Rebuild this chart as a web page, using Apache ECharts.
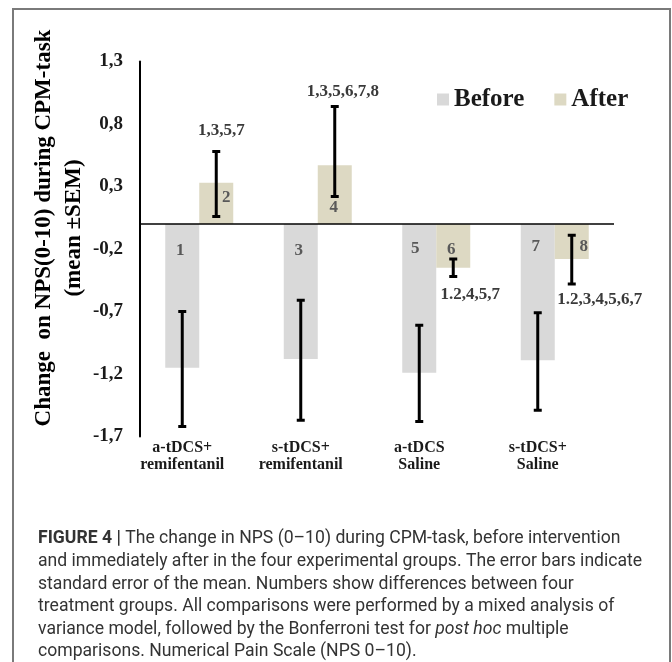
<!DOCTYPE html>
<html><head><meta charset="utf-8">
<script src="https://cdn.jsdelivr.net/npm/echarts@6/dist/echarts.min.js"></script>
<style>html,body{margin:0;padding:0;background:#fff}#c{width:672px;height:662px}</style>
</head><body><div id="c"></div>
<script>
// ---- data ----
const categories = ['a-tDCS+\nremifentanil', 's-tDCS+\nremifentanil', 'a-tDCS\nSaline', 's-tDCS+\nSaline'];
const seriesNames = ['Before', 'After'];
const beforeValues = [-1.15, -1.08, -1.19, -1.09];
const afterValues = [0.33, 0.47, -0.35, -0.28];
const beforeErrLow = [-1.62, -1.57, -1.58, -1.49];
const beforeErrHigh = [-0.70, -0.61, -0.81, -0.71];
const afterErrLow = [0.06, 0.22, -0.42, -0.48];
const afterErrHigh = [0.58, 0.94, -0.28, -0.09];
const beforeNumbers = ['1', '3', '5', '7'];
const afterNumbers = ['2', '4', '6', '8'];
const afterSigLabels = ['1,3,5,7', '1,3,5,6,7,8', '1.2,4,5,7', '1.2,3,4,5,6,7'];
const yMin = -1.7, yMax = 1.3, yStep = 0.5;
const yTitle1 = 'Change  on NPS(0-10) during CPM-task';
const yTitle2 = '(mean \u00B1SEM)';
const captionLines = [
  '{b|FIGURE 4 |} The change in NPS (0\u201310) during CPM-task, before intervention',
  'and immediately after in the four experimental groups. The error bars indicate',
  'standard error of the mean. Numbers show differences between four',
  'treatment groups. All comparisons were performed by a mixed analysis of',
  'variance model, followed by the Bonferroni test for {i|post hoc} multiple',
  'comparisons. Numerical Pain Scale (NPS 0\u201310).'
];

// ---- styling (pixel offsets for annotation text) ----
const SERIF = '"Liberation Serif", "Times New Roman", serif';
const BAR_W = 34;
const beforeNumOff = [[-2, 27], [-2, 27], [-4, 25], [-2, 23]];   // relative to zero line
const afterNumOff = [[10, -26], [-1, -16], [-2, 26], [12, 23]];  // relative to zero line
const sigOff = [[5, -21], [8, -15], [17, 18], [28, 16]];          // relative to error-bar end

function errRenderer(side, lows, highs, vals, nums, numOff, sigs) {
  return function (params, api) {
    const i = api.value(0);
    const c0 = api.coord([i, 0]);
    const x = c0[0] + side * BAR_W / 2;
    const yLo = api.coord([i, lows[i]])[1];
    const yHi = api.coord([i, highs[i]])[1];
    const line = { stroke: '#000', lineWidth: 3 };
    const children = [
      { type: 'line', shape: { x1: x, y1: yHi, x2: x, y2: yLo }, style: line },
      { type: 'line', shape: { x1: x - 4, y1: yHi, x2: x + 4, y2: yHi }, style: line },
      { type: 'line', shape: { x1: x - 4, y1: yLo, x2: x + 4, y2: yLo }, style: line },
      { type: 'text', x: x + numOff[i][0], y: c0[1] + numOff[i][1],
        style: { text: nums[i], fill: '#595959', font: 'bold 17px ' + SERIF, align: 'center', verticalAlign: 'middle' } }
    ];
    if (sigs) {
      const anchorY = vals[i] >= 0 ? yHi : yLo;
      children.push({ type: 'text', x: x + sigOff[i][0], y: anchorY + sigOff[i][1],
        style: { text: sigs[i], fill: '#3a3a3a', font: 'bold 17px ' + SERIF, align: 'center', verticalAlign: 'middle' } });
    }
    return { type: 'group', children };
  };
}

const chart = echarts.init(document.getElementById('c'), null, { renderer: 'canvas' });
const idx = categories.map((_, i) => [i, 0]);

const graphics = [
  { type: 'rect', shape: { x: 13, y: 9, width: 657, height: 720 }, style: { fill: 'none', stroke: '#7a7a7a', lineWidth: 2 }, silent: true },
  { type: 'text', x: 44, y: 228, rotation: Math.PI / 2,
    style: { text: yTitle1, font: 'bold 23px ' + SERIF, fill: '#000', align: 'center', verticalAlign: 'middle' } },
  { type: 'text', x: 74, y: 228, rotation: Math.PI / 2,
    style: { text: yTitle2, font: 'bold 23px ' + SERIF, fill: '#000', align: 'center', verticalAlign: 'middle' } }
];
captionLines.forEach((t, k) => {
  graphics.push({ type: 'text', x: 38, y: 539 + 22.6 * k,
    style: { text: t, font: '17.6px Roboto', fill: '#333', align: 'left', verticalAlign: 'middle',
      rich: { b: { font: 'bold 17.6px Roboto', fill: '#333' }, i: { font: 'italic 17.6px Roboto', fill: '#333' } } } });
});

chart.setOption({
  animation: false,
  backgroundColor: '#fff',
  grid: { left: 140, top: 61.5, width: 474, height: 375, containLabel: false },
  legend: {
    data: seriesNames, left: 432, top: 82, icon: 'rect', itemWidth: 12, itemHeight: 12, itemGap: 30,
    textStyle: { fontFamily: SERIF, fontWeight: 'bold', fontSize: 25, color: '#1a1a1a' }
  },
  xAxis: {
    type: 'category', data: categories,
    axisLine: { show: false }, axisTick: { show: false }, splitLine: { show: false },
    axisLabel: { interval: 0, margin: 3, fontFamily: SERIF, fontWeight: 'bold', fontSize: 16, lineHeight: 17,
      color: '#1a1a1a', padding: [0, 34, 0, 0] }
  },
  yAxis: {
    type: 'value', min: yMin, max: yMax, interval: yStep,
    axisLine: { show: true, lineStyle: { color: '#000', width: 2 } },
    axisTick: { show: false }, splitLine: { show: false },
    axisLabel: { margin: 17, fontFamily: SERIF, fontWeight: 'bold', fontSize: 19, color: '#1a1a1a',
      formatter: v => (Math.round(v * 10) / 10).toFixed(1).replace('.', ',') }
  },
  graphic: graphics,
  series: [
    { name: 'Before', type: 'bar', data: beforeValues, barWidth: BAR_W, barGap: '0%',
      itemStyle: { color: '#d9d9d9' },
      markLine: { silent: true, symbol: 'none', label: { show: false },
        lineStyle: { color: '#000', width: 1.5, type: 'solid' }, data: [{ yAxis: 0 }] } },
    { name: 'After', type: 'bar', data: afterValues, barWidth: BAR_W, barGap: '0%',
      itemStyle: { color: '#ddd9c3' } },
    { type: 'custom', data: idx, z: 5, silent: true,
      renderItem: errRenderer(-1, beforeErrLow, beforeErrHigh, beforeValues, beforeNumbers, beforeNumOff, null) },
    { type: 'custom', data: idx, z: 5, silent: true,
      renderItem: errRenderer(1, afterErrLow, afterErrHigh, afterValues, afterNumbers, afterNumOff, afterSigLabels) }
  ]
});
</script></body></html>
